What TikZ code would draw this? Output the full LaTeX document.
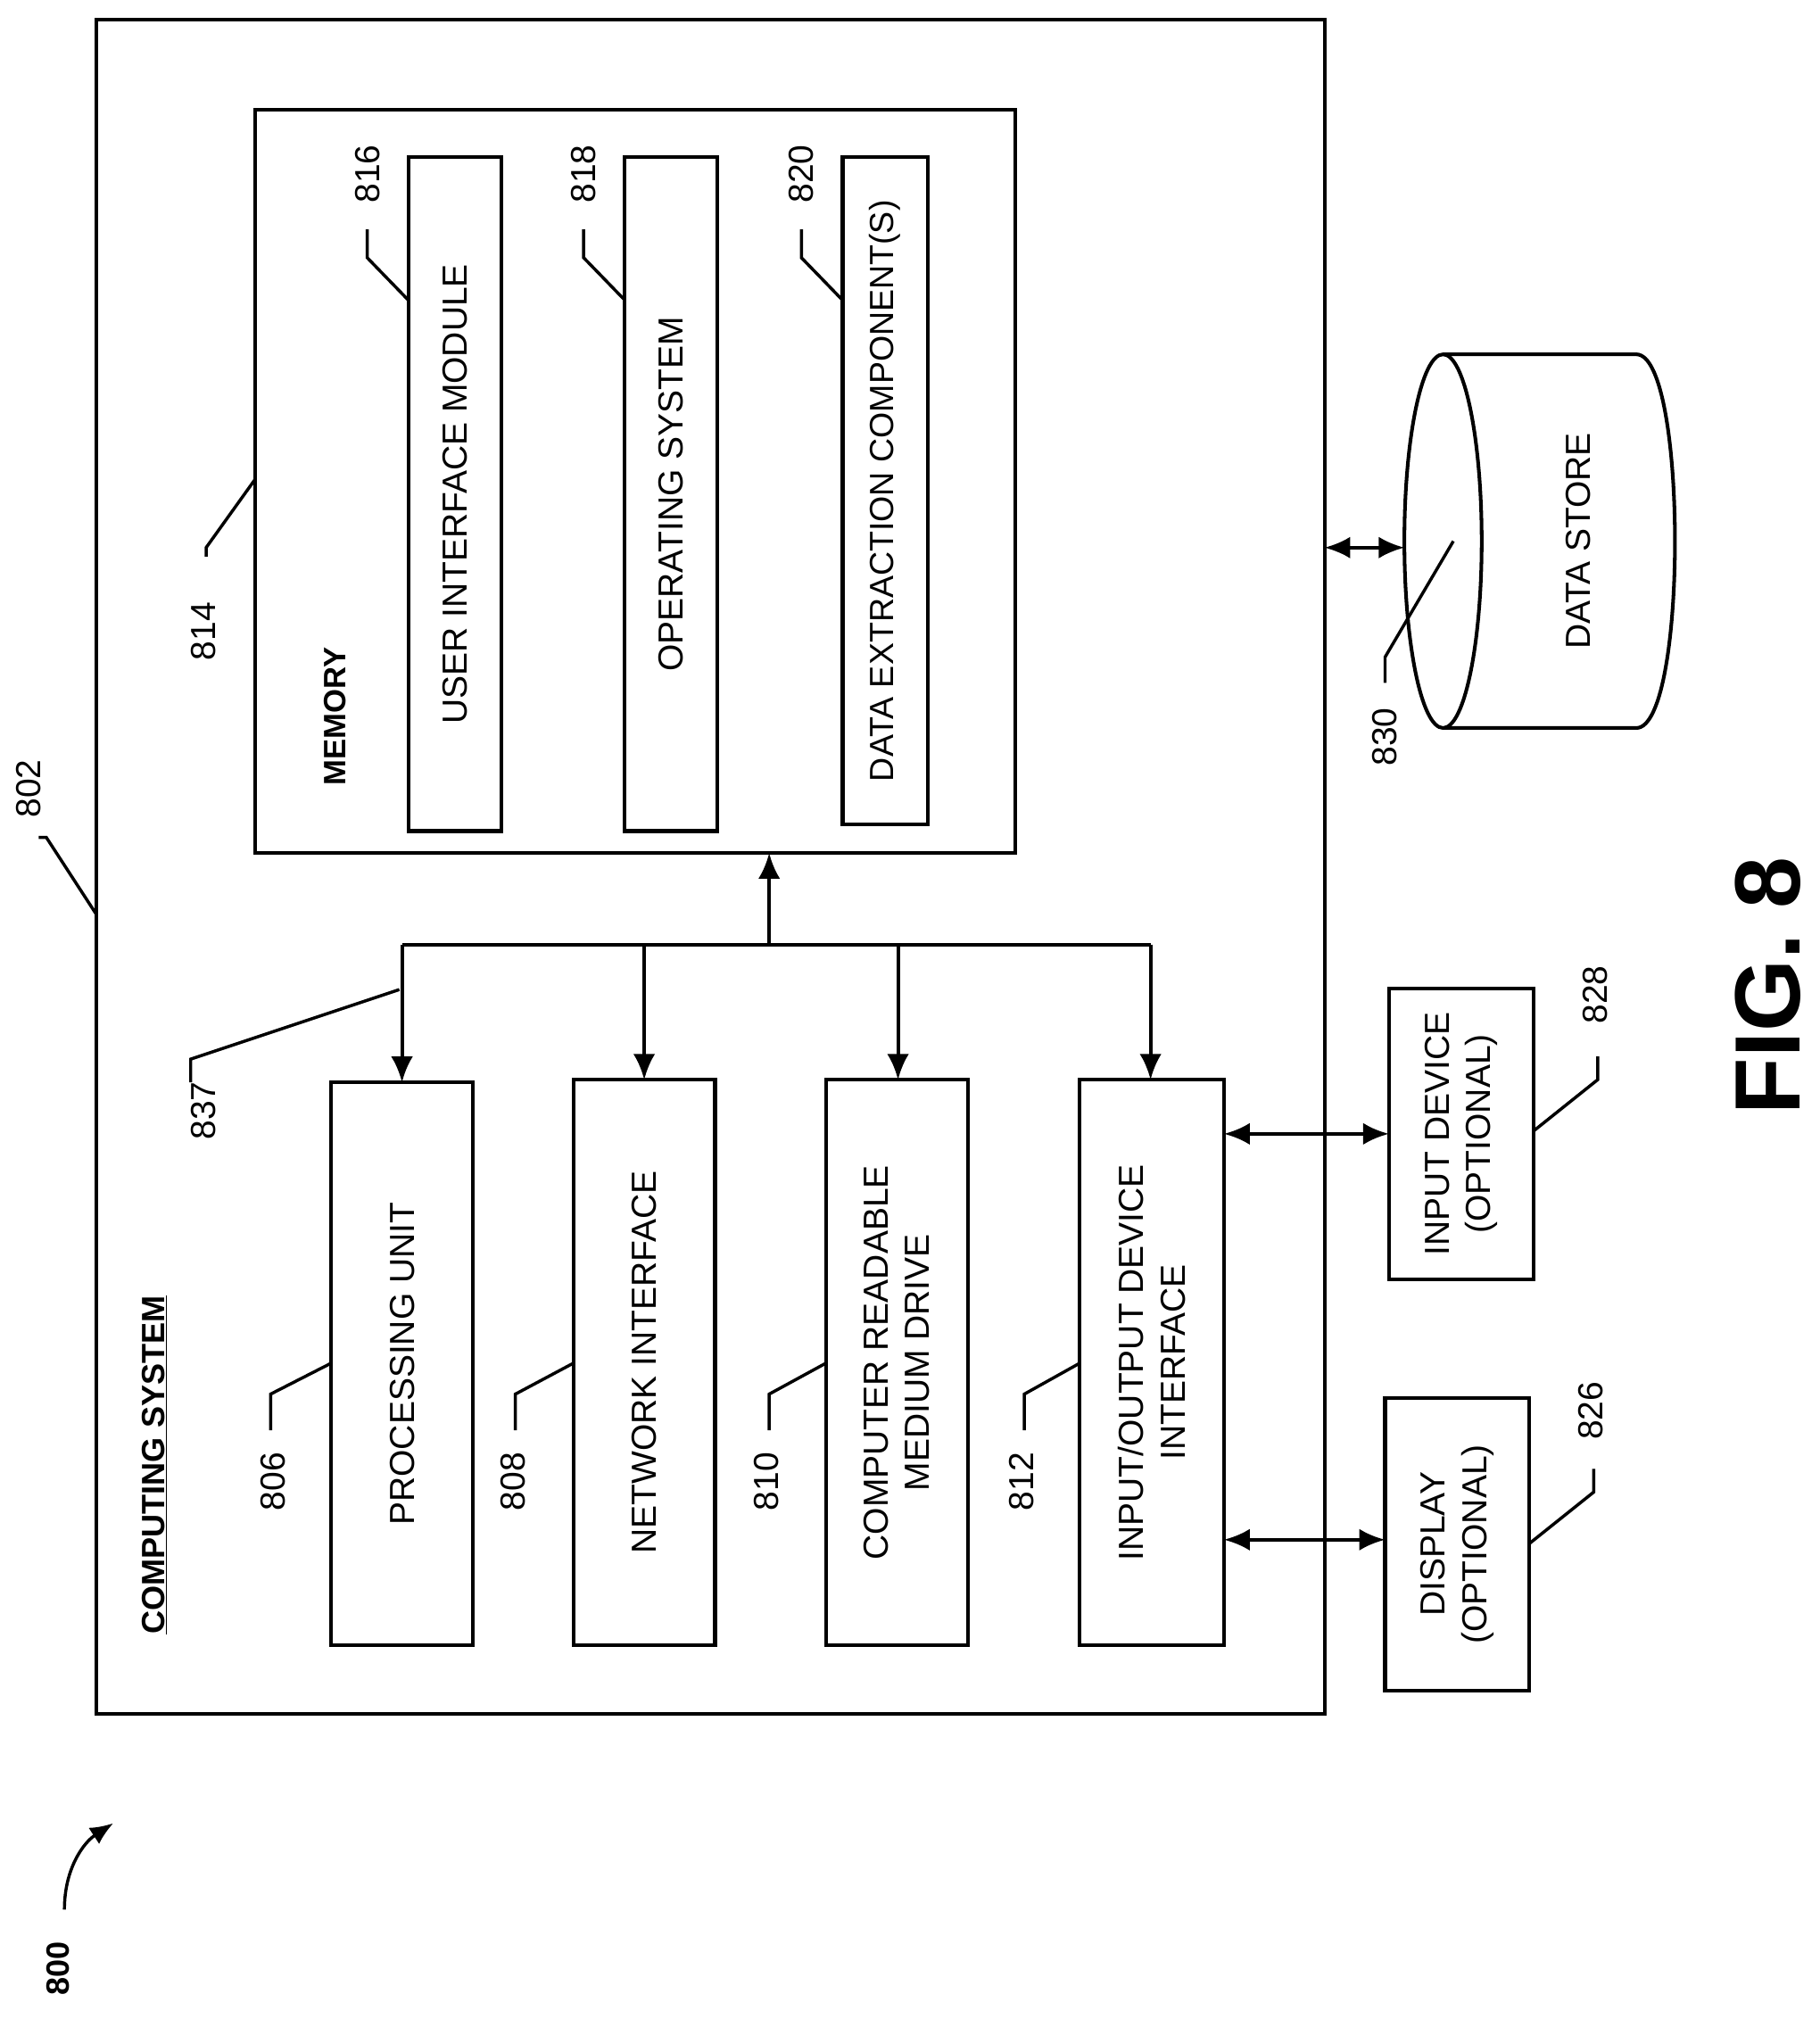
\documentclass[tikz,border=0pt]{standalone}
\usepackage{fontspec}
\setmainfont{Liberation Sans}
\usetikzlibrary{arrows.meta}
\begin{document}
\begin{tikzpicture}[x=1pt,y=-1pt,line width=2.8pt,
  lbl/.style={rotate=90,font=\fontsize{27}{32}\selectfont,align=center},
  num/.style={rotate=90,font=\fontsize{27}{32}\selectfont},
  box/.style={draw},
  ar/.style={-{Latex[length=20pt,width=17pt]}},
  dar/.style={{Latex[length=20pt,width=17pt]}-{Latex[length=20pt,width=17pt]}},
  lead/.style={line width=2.4pt}]
\useasboundingbox (0,0) rectangle (1412,1567);
% outer
\draw[box] (75,15) rectangle (1028,1330);
\coordinate (cs) at (75,710);
\node[num] (n802) at (22,612) {802};
\draw[lead] (30,650) -- (36,650) -- (cs);
\node[rotate=90,font=\bfseries\fontsize{25}{30}\selectfont] (csl) at (120,1137) {\underline{COMPUTING SYSTEM}};
% memory
\draw[box] (198,85) rectangle (788,662);
\coordinate (mem) at (198,372);
\node[num] (n814) at (158,490) {814};
\node[rotate=90,font=\bfseries\fontsize{24}{30}\selectfont] (meml) at (260,556) {MEMORY};
\draw[lead] (160,432) -- (160,425) -- (mem);
\node[box,minimum width=523pt,minimum height=72pt,rotate=90,font=\fontsize{27}{32}\selectfont] (ui) at (353,383.5) {USER INTERFACE MODULE};
\node[box,minimum width=523pt,minimum height=72pt,rotate=90,font=\fontsize{27}{32}\selectfont] (os) at (521,383.5) {OPERATING SYSTEM};
\node[box,minimum width=518pt,minimum height=66pt,rotate=90,font=\fontsize{26}{32}\selectfont] (de) at (687,381) {DATA EXTRACTION COMPONENT(S)};
\node[num] (n816) at (285,135) {816};
\node[num] (n818) at (453,135) {818};
\node[num] (n820) at (622,135) {820};
\draw[lead] (285,178) -- (285,200) -- (317,233);
\draw[lead] (453,178) -- (453,200) -- (485,233);
\draw[lead] (622,178) -- (622,200) -- (654,233);
% lower boxes
\node[box,minimum width=437pt,minimum height=110pt,rotate=90] (pu) at (312,1058.5) {};
\node[lbl] at (pu) {PROCESSING UNIT};
\node[box,minimum width=439pt,minimum height=110pt,rotate=90] (ni) at (500,1057.5) {};
\node[lbl] at (ni) {NETWORK INTERFACE};
\node[box,minimum width=439pt,minimum height=110pt,rotate=90] (cr) at (696,1057.5) {};
\node[lbl] at (cr) {COMPUTER READABLE\\MEDIUM DRIVE};
\node[box,minimum width=439pt,minimum height=112pt,rotate=90] (io) at (894,1057.5) {};
\node[lbl] at (io) {INPUT/OUTPUT DEVICE\\INTERFACE};
\node[num] (n806) at (212,1150) {806};
\node[num] (n808) at (398,1150) {808};
\node[num] (n810) at (595,1150) {810};
\node[num] (n812) at (793,1150) {812};
\draw[lead] (210,1110) -- (210,1082) -- (257,1058);
\draw[lead] (400,1110) -- (400,1082) -- (445,1058);
\draw[lead] (597,1110) -- (597,1082) -- (641,1058);
\draw[lead] (795,1110) -- (795,1082) -- (838,1058);
% bus
\coordinate (b1) at (312,733); \coordinate (b4) at (893,733); \coordinate (bm) at (597,733);
\draw (b1) -- (b4);
\draw[ar] (b1) -- (312,840);
\draw[ar] (500,733) -- (500,838);
\draw[ar] (697,733) -- (697,838);
\draw[ar] (b4) -- (893,838);
\draw[ar] (bm) -- (597,662);
\node[num] (n837) at (158,862) {837};
\draw[lead] (148,840) -- (148,822) -- (310,768);
% data store
\draw[fill=white] (1120,275) -- (1270,275) .. controls (1310,275) and (1310,565) .. (1270,565) -- (1120,565);
\draw[fill=white] (1120,420) ellipse[x radius=30,y radius=145];
\node[lbl] (dsl) at (1225,420) {DATA STORE};
\node[num] (n830) at (1075,572) {830};
\draw[lead] (1075,530) -- (1075,510) -- (1128,420);
\draw[dar] (1028,425) -- (1090,425);
% input / display
\node[box,minimum width=226pt,minimum height=112pt,rotate=90,font=\fontsize{27}{32}\selectfont,align=center] (in) at (1134,880) {INPUT DEVICE\\(OPTIONAL)};
\node[box,minimum width=227pt,minimum height=112pt,rotate=90,font=\fontsize{27}{32}\selectfont,align=center] (dp) at (1131,1198.5) {DISPLAY\\(OPTIONAL)};
\node[num] (n828) at (1238,772) {828};
\node[num] (n826) at (1235,1095) {826};
\draw[lead] (1240,820) -- (1240,838) -- (1190,878);
\draw[lead] (1237,1140) -- (1237,1158) -- (1187,1198);
\draw[dar] (950,880) -- (1078,880);
\draw[dar] (950,1195) -- (1075,1195);
% fig
\node[rotate=90,font=\bfseries\fontsize{72}{80}\selectfont] (fig) at (1372,765) {FIG. 8};
\node[rotate=90,font=\bfseries\fontsize{25}{30}\selectfont] (n800) at (45,1528) {800};
\draw[lead,-{Latex[length=18pt,width=15pt]}] (50,1482) .. controls (50,1450) and (65,1430) .. (88,1415);
\end{tikzpicture}
\end{document}
